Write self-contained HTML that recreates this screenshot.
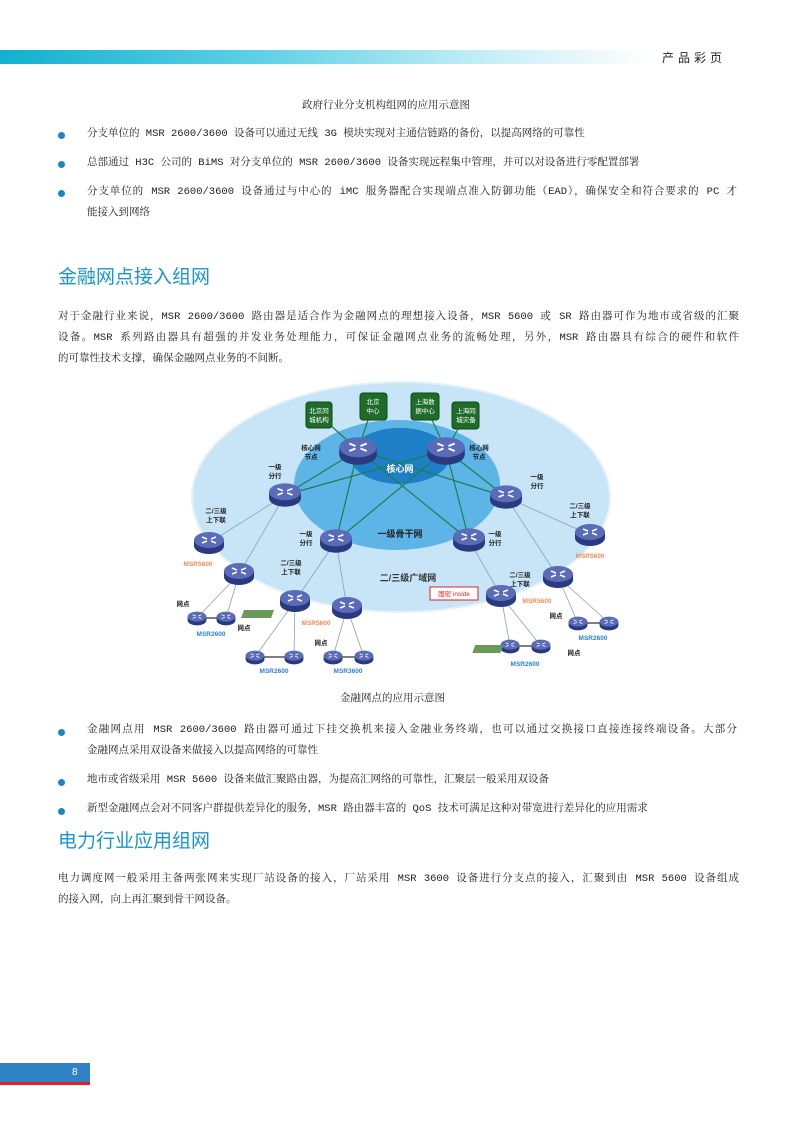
<!DOCTYPE html>
<html><head><meta charset="utf-8"><style>
body{margin:0;width:793px;height:1122px;position:relative;background:#fff;overflow:hidden;font-family:"Liberation Mono","Noto Serif CJK SC","Noto Sans CJK SC",serif;color:#222;}
.t{position:absolute;font-size:10.5px;line-height:14px;white-space:nowrap;}
.j{text-align:justify;text-align-last:justify;white-space:normal;}
.b{position:absolute;width:7px;height:7px;border-radius:50%;background:#1a86c4;}
.h{position:absolute;font-family:"Liberation Sans","Noto Sans CJK SC",sans-serif;font-size:19px;color:#1a95cf;line-height:24px;white-space:nowrap;}
</style></head><body>
<div style="position:absolute;left:0;top:50px;width:650px;height:14px;background:linear-gradient(90deg,#12b0d0 0%,#5fd0e6 40%,#c6eef6 75%,#fff 100%);"></div>
<div class="t" style="left:662px;top:51px;font-family:'Liberation Sans','Noto Sans CJK SC',sans-serif;font-size:12px;letter-spacing:4px;color:#222">产品彩页</div>

<div class="t" style="left:302px;top:99px">政府行业分支机构组网的应用示意图</div>

<div class="b" style="left:58px;top:132px"></div>
<div class="t" style="left:87px;top:127px">分支单位的 MSR 2600/3600 设备可以通过无线 3G 模块实现对主通信链路的备份，以提高网络的可靠性</div>
<div class="b" style="left:58px;top:161px"></div>
<div class="t" style="left:87px;top:156px">总部通过 H3C 公司的 BiMS 对分支单位的 MSR 2600/3600 设备实现远程集中管理，并可以对设备进行零配置部署</div>
<div class="b" style="left:58px;top:190px"></div>
<div class="t j" style="left:87px;top:185px;width:650px">分支单位的 MSR 2600/3600 设备通过与中心的 iMC 服务器配合实现端点准入防御功能（EAD），确保安全和符合要求的 PC 才</div>
<div class="t" style="left:87px;top:206px">能接入到网络</div>

<div class="h" style="left:58px;top:266px">金融网点接入组网</div>
<div class="t j" style="left:58px;top:310px;width:681px">对于金融行业来说，MSR 2600/3600 路由器是适合作为金融网点的理想接入设备，MSR 5600 或 SR 路由器可作为地市或省级的汇聚</div>
<div class="t j" style="left:58px;top:331px;width:681px">设备。MSR 系列路由器具有超强的并发业务处理能力，可保证金融网点业务的流畅处理，另外，MSR 路由器具有综合的硬件和软件</div>
<div class="t" style="left:58px;top:352px">的可靠性技术支撑，确保金融网点业务的不间断。</div>

<svg style="position:absolute;left:0;top:0" width="793" height="1122" font-family="Liberation Sans,Noto Sans CJK SC,sans-serif">
<defs>
<radialGradient id="g1" cx="50%" cy="50%" r="50%"><stop offset="0" stop-color="#cfe9f8"/><stop offset="1" stop-color="#bfe0f5"/></radialGradient>
<symbol id="r" viewBox="-16 -12 32 24"><ellipse cx="0" cy="3" rx="15" ry="8" fill="#2b3a80"/><rect x="-15" y="-3" width="30" height="6" fill="#2b3a80"/><ellipse cx="0" cy="-3" rx="15" ry="8" fill="#5a6cb8"/><path d="M-7,-6 l5,2 M7,-6 l-5,2 M-7,0 l5,-2 M7,0 l-5,-2" stroke="#fff" stroke-width="1.5"/></symbol>
</defs>
<ellipse cx="401" cy="497" rx="209" ry="115" fill="#c8e5f7" stroke="#e6f2fa" stroke-width="2"/>
<ellipse cx="397" cy="485" rx="103" ry="65" fill="#5db4e6"/>
<ellipse cx="400" cy="456" rx="50" ry="28" fill="#1e7ec6"/>
<g stroke="#1f7d50" stroke-width="1.2" fill="none">
<path d="M358,450L285,495M358,450L506,497M358,450L336,541M358,450L469,540M446,450L285,495M446,450L506,497M446,450L336,541M446,450L469,540M358,450L319,415M358,450L373,405M446,450L425,405M446,450L466,415"/>
</g>
<g stroke="#8aa0b8" stroke-width="0.8" fill="none">
<path d="M285,495L209,543M285,495L239,574M239,574L197,618M239,574L226,618M336,541L295,601M336,541L347,608M295,601L255,657M295,601L294,657M347,608L333,657M347,608L364,657M469,540L501,596M506,497L590,535M506,497L558,577M501,596L510,646M501,596L541,646M558,577L578,623M558,577L609,623"/>
</g>
<g stroke="#333" stroke-width="1.2"><path d="M197,618H226M255,657H294M333,657H364M510,646H541M578,623H609"/></g>
<g fill="#1f6b2a" stroke="#0d4a18"><rect x="306" y="402" width="26" height="26" rx="3"/><rect x="360" y="393" width="27" height="27" rx="3"/><rect x="411" y="393" width="28" height="27" rx="3"/><rect x="452" y="402" width="27" height="27" rx="3"/></g>
<g fill="#fff" font-size="6.5" text-anchor="middle"><text x="319" y="413">北京同</text><text x="319" y="422">城机构</text><text x="373" y="404">北京</text><text x="373" y="413">中心</text><text x="425" y="404">上海数</text><text x="425" y="413">据中心</text><text x="466" y="413">上海同</text><text x="466" y="422">城灾备</text></g>
<use href="#r" x="338" y="435" width="40" height="32"/><use href="#r" x="426" y="435" width="40" height="32"/>
<g>
<use href="#r" x="268" y="482" width="34" height="26"/><use href="#r" x="489" y="484" width="34" height="26"/>
<use href="#r" x="319" y="528" width="34" height="26"/><use href="#r" x="452" y="527" width="34" height="26"/>
<use href="#r" x="193" y="531" width="32" height="24"/><use href="#r" x="574" y="523" width="32" height="24"/>
<use href="#r" x="223" y="562" width="32" height="24"/><use href="#r" x="279" y="589" width="32" height="24"/>
<use href="#r" x="331" y="596" width="32" height="24"/><use href="#r" x="485" y="584" width="32" height="24"/>
<use href="#r" x="542" y="565" width="32" height="24"/>
<use href="#r" x="187" y="611" width="20" height="15"/><use href="#r" x="216" y="611" width="20" height="15"/>
<use href="#r" x="245" y="650" width="20" height="15"/><use href="#r" x="284" y="650" width="20" height="15"/>
<use href="#r" x="323" y="650" width="20" height="15"/><use href="#r" x="354" y="650" width="20" height="15"/>
<use href="#r" x="500" y="639" width="20" height="15"/><use href="#r" x="531" y="639" width="20" height="15"/>
<use href="#r" x="568" y="616" width="20" height="15"/><use href="#r" x="599" y="616" width="20" height="15"/>
</g>
<text x="400" y="472" fill="#fff" font-size="9" font-weight="bold" text-anchor="middle">核心网</text>
<text x="400" y="537" fill="#222" font-size="9" font-weight="bold" text-anchor="middle">一级骨干网</text>
<text x="408" y="581" fill="#333" font-size="9" font-weight="bold" text-anchor="middle">二/三级广域网</text>
<g font-size="6.5" font-weight="bold" fill="#222" text-anchor="middle">
<text x="311" y="450">核心网</text><text x="311" y="459">节点</text><text x="479" y="450">核心网</text><text x="479" y="459">节点</text>
<text x="275" y="469">一级</text><text x="275" y="478">分行</text><text x="537" y="479">一级</text><text x="537" y="488">分行</text>
<text x="306" y="536">一级</text><text x="306" y="545">分行</text><text x="495" y="536">一级</text><text x="495" y="545">分行</text>
<text x="216" y="513">二/三级</text><text x="216" y="522">上下联</text><text x="580" y="508">二/三级</text><text x="580" y="517">上下联</text>
<text x="291" y="565">二/三级</text><text x="291" y="574">上下联</text><text x="520" y="577">二/三级</text><text x="520" y="586">上下联</text>
<text x="183" y="606">网点</text><text x="244" y="630">网点</text><text x="321" y="645">网点</text><text x="556" y="618">网点</text><text x="574" y="655">网点</text>
</g>
<g font-size="6.5" font-weight="bold" text-anchor="middle">
<text x="198" y="566" fill="#f08a5a">MSR5600</text><text x="590" y="558" fill="#f08a5a">MSR5600</text><text x="316" y="625" fill="#f08a5a">MSR5600</text><text x="537" y="603" fill="#f08a5a">MSR5600</text>
<text x="211" y="636" fill="#2a7fd0">MSR2600</text><text x="274" y="673" fill="#2a7fd0">MSR2600</text><text x="348" y="673" fill="#2a7fd0">MSR3600</text><text x="525" y="666" fill="#2a7fd0">MSR2600</text><text x="593" y="640" fill="#2a7fd0">MSR2600</text>
</g>
<rect x="430" y="587" width="48" height="13" fill="#fff" stroke="#e02020"/><text x="454" y="596" font-size="6.5" fill="#e02020" text-anchor="middle">国密 inside</text>
<rect x="466" y="610" width="30" height="8" fill="#6a9a5a" transform="skewX(-20)"/><rect x="480" y="645" width="28" height="8" fill="#6a9a5a" transform="skewX(-20) translate(230,0)"/>
</svg>

<div class="t" style="left:340px;top:692px">金融网点的应用示意图</div>
<div class="b" style="left:58px;top:729px"></div>
<div class="t j" style="left:87px;top:723px;width:650px">金融网点用 MSR 2600/3600 路由器可通过下挂交换机来接入金融业务终端，也可以通过交换接口直接连接终端设备。大部分</div>
<div class="t" style="left:87px;top:744px">金融网点采用双设备来做接入以提高网络的可靠性</div>
<div class="b" style="left:58px;top:779px"></div>
<div class="t" style="left:87px;top:773px">地市或省级采用 MSR 5600 设备来做汇聚路由器，为提高汇网络的可靠性，汇聚层一般采用双设备</div>
<div class="b" style="left:58px;top:808px"></div>
<div class="t" style="left:87px;top:802px">新型金融网点会对不同客户群提供差异化的服务，MSR 路由器丰富的 QoS 技术可满足这种对带宽进行差异化的应用需求</div>

<div class="h" style="left:58px;top:830px">电力行业应用组网</div>
<div class="t j" style="left:58px;top:872px;width:681px">电力调度网一般采用主备两张网来实现厂站设备的接入，厂站采用 MSR 3600 设备进行分支点的接入，汇聚到由 MSR 5600 设备组成</div>
<div class="t" style="left:58px;top:893px">的接入网，向上再汇聚到骨干网设备。</div>

<div style="position:absolute;left:0;top:1063px;width:90px;height:19px;background:#2f82c3"></div>
<div style="position:absolute;left:0;top:1082px;width:90px;height:3px;background:#e0202a"></div>
<div class="t" style="left:72px;top:1066px;color:#fff;font-family:'Liberation Sans',sans-serif;font-size:10px">8</div>
</body></html>
